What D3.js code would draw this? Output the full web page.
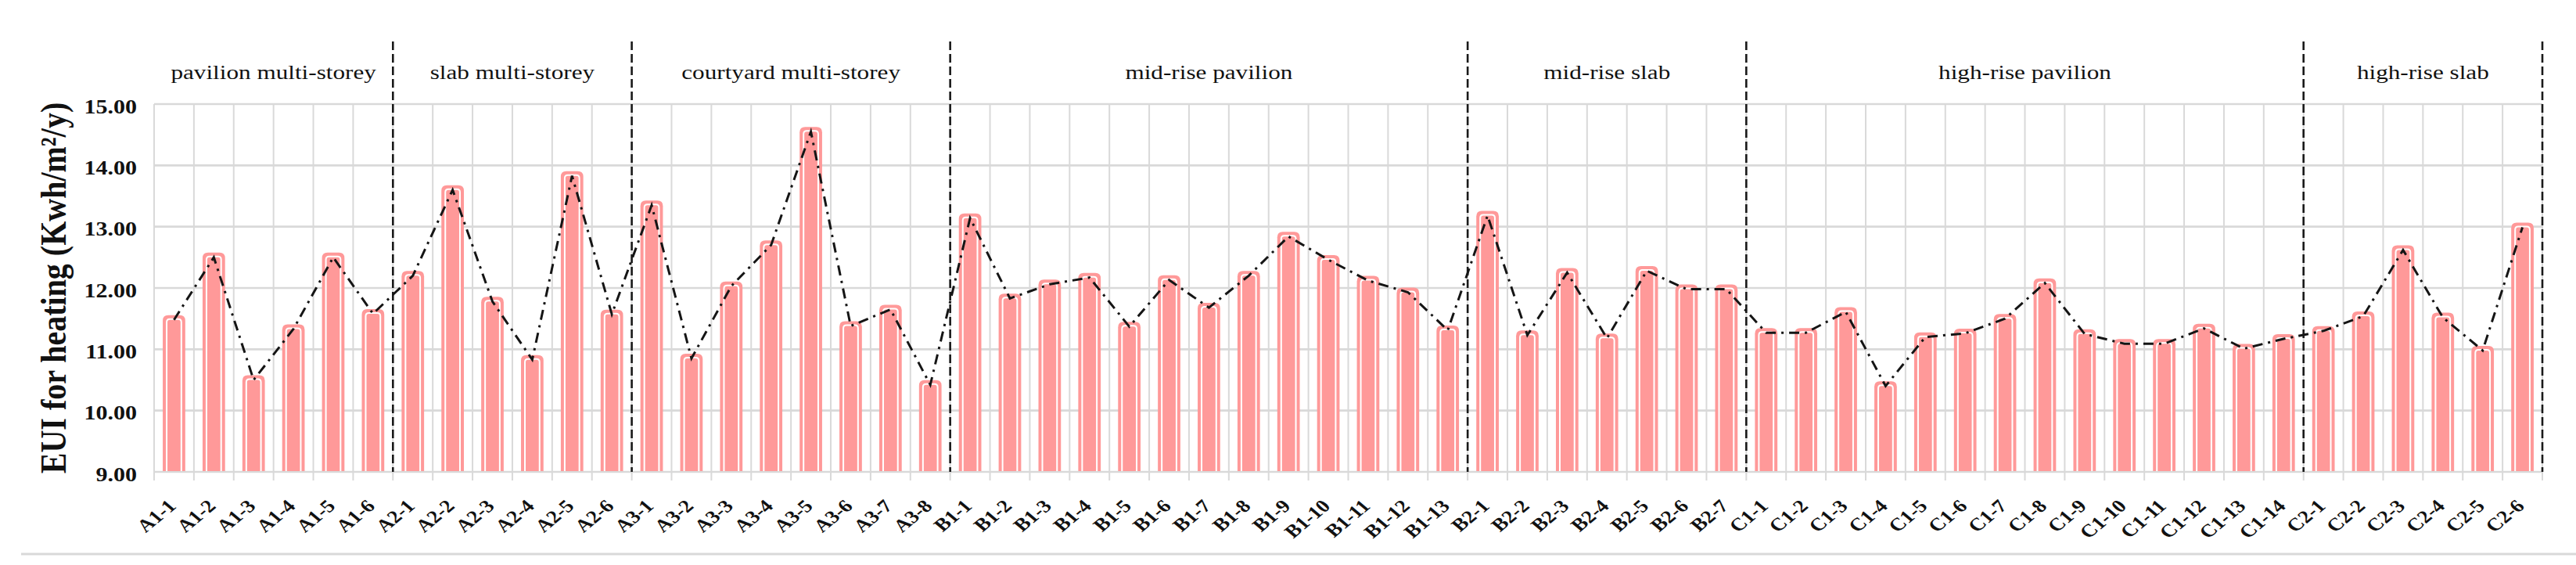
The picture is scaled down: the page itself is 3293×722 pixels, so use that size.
<!DOCTYPE html>
<html>
<head>
<meta charset="utf-8">
<script src="https://cdn.jsdelivr.net/npm/d3@7/dist/d3.min.js"></script>
<style>
  html, body { margin: 0; padding: 0; background: #ffffff; }
  svg { display: block; }
</style>
</head>
<body>
<script>
// ---------------- data ----------------
const categories = [
  "A1-1","A1-2","A1-3","A1-4","A1-5","A1-6",
  "A2-1","A2-2","A2-3","A2-4","A2-5","A2-6",
  "A3-1","A3-2","A3-3","A3-4","A3-5","A3-6","A3-7","A3-8",
  "B1-1","B1-2","B1-3","B1-4","B1-5","B1-6","B1-7","B1-8","B1-9","B1-10","B1-11","B1-12","B1-13",
  "B2-1","B2-2","B2-3","B2-4","B2-5","B2-6","B2-7",
  "C1-1","C1-2","C1-3","C1-4","C1-5","C1-6","C1-7","C1-8","C1-9","C1-10","C1-11","C1-12","C1-13","C1-14",
  "C2-1","C2-2","C2-3","C2-4","C2-5","C2-6"
];
const eui = [
  11.48, 12.50, 10.50, 11.33, 12.50, 11.58,
  12.20, 13.60, 11.78, 10.83, 13.83, 11.57,
  13.35, 10.85, 12.03, 12.70, 14.55, 11.38, 11.65, 10.42,
  13.14, 11.83, 12.06, 12.17, 11.37, 12.13, 11.68, 12.20, 12.84, 12.46, 12.12, 11.93, 11.31,
  13.18, 11.23, 12.25, 11.18, 12.28, 11.98, 11.98,
  11.27, 11.27, 11.61, 10.40, 11.20, 11.26, 11.50, 12.08, 11.25, 11.09, 11.09, 11.34, 11.01, 11.17,
  11.30, 11.54, 12.62, 11.52, 10.98, 12.99
];
const groupNames = [
  "pavilion multi-storey","slab multi-storey","courtyard multi-storey",
  "mid-rise pavilion","mid-rise slab","high-rise pavilion","high-rise slab"
];
const groupSizes = [6, 6, 8, 13, 7, 14, 6];
const yTicks = [9, 10, 11, 12, 13, 14, 15];
const yTitle = "EUI for heating (Kwh/m\u00B2/y)";

// ---------------- layout ----------------
const W = 3293, H = 722;
const serif = "'Liberation Serif', 'Times New Roman', Times, serif";
const pink = "#ff9999";
const gridColor = "#d9d9d9";

const svg = d3.select("body").append("svg")
  .attr("width", W).attr("height", H)
  .attr("viewBox", `0 0 ${W} ${H}`);

const x = d3.scaleBand().domain(categories).range([197, 3250]).padding(0);
const y = d3.scaleLinear().domain([9, 15]).range([603, 133]);
const step = x.step();
const boundaryX = i => (i < categories.length ? x(categories[i]) : x.range()[1]);

// horizontal grid
svg.append("g").selectAll("line").data(yTicks).join("line")
  .attr("x1", x.range()[0]).attr("x2", x.range()[1])
  .attr("y1", d => y(d)).attr("y2", d => y(d))
  .attr("stroke", gridColor).attr("stroke-width", 2.6);

// vertical grid + tick marks
svg.append("g").selectAll("line").data(d3.range(categories.length + 1)).join("line")
  .attr("x1", i => boundaryX(i)).attr("x2", i => boundaryX(i))
  .attr("y1", y(15)).attr("y2", y(9) + 11)
  .attr("stroke", gridColor).attr("stroke-width", 2);

// y tick labels
svg.append("g").selectAll("text").data(yTicks).join("text")
  .attr("transform", d => `translate(175,${y(d) + 11.5}) scale(1.2,1)`)
  .attr("text-anchor", "end")
  .attr("font-family", serif).attr("font-weight", "bold").attr("font-size", 25)
  .attr("fill", "#111")
  .text(d => d3.format(".2f")(d));

// y title
svg.append("text")
  .attr("transform", `translate(84,${(y(9) + y(15)) / 2}) scale(1.15,1) rotate(-90)`)
  .attr("text-anchor", "middle")
  .attr("font-family", serif).attr("font-weight", "bold").attr("font-size", 40)
  .attr("fill", "#111")
  .text(yTitle);

// bars
const bw = step * 0.565;
const topPath = (x0, x1, top, bottom, r) =>
  `M${x0},${bottom}V${top + r}Q${x0},${top} ${x0 + r},${top}H${x1 - r}Q${x1},${top} ${x1},${top + r}V${bottom}`;

const bars = svg.append("g");
bars.selectAll("path.outer").data(categories).join("path")
  .attr("class", "outer")
  .attr("d", (c, i) => {
    const cx = x(c) + step / 2;
    return topPath(cx - bw / 2, cx + bw / 2, y(eui[i]) - 6, y(9) - 1, 7) + "Z";
  })
  .attr("fill", pink);
bars.selectAll("path.inner").data(categories).join("path")
  .attr("class", "inner")
  .attr("d", (c, i) => {
    const cx = x(c) + step / 2;
    return topPath(cx - bw / 2 + 5, cx + bw / 2 - 5, y(eui[i]) - 1, y(9) - 1, 4);
  })
  .attr("fill", "none").attr("stroke", "#ffffff").attr("stroke-width", 2);

// group separators (dashed)
const cum = d3.cumsum(groupSizes);
svg.append("g").selectAll("line").data(cum).join("line")
  .attr("x1", i => boundaryX(i)).attr("x2", i => boundaryX(i))
  .attr("y1", 53).attr("y2", y(9))
  .attr("stroke", "#1a1a1a").attr("stroke-width", 2.6)
  .attr("stroke-dasharray", "11,5");

// group labels
const starts = [0, ...cum.slice(0, -1)];
svg.append("g").selectAll("text").data(groupNames).join("text")
  .attr("transform", (g, i) => {
    const cx = (boundaryX(starts[i]) + boundaryX(cum[i])) / 2;
    return `translate(${cx},101) scale(1.2,1)`;
  })
  .attr("text-anchor", "middle")
  .attr("font-family", serif).attr("font-size", 26)
  .attr("fill", "#111")
  .text(d => d);

// dash-dot line
const line = d3.line()
  .x((d, i) => x(categories[i]) + step / 2)
  .y(d => y(d));
svg.append("path")
  .datum(eui)
  .attr("d", line)
  .attr("fill", "none")
  .attr("stroke", "#151515").attr("stroke-width", 3)
  .attr("stroke-dasharray", "13,7,3,7");

// category labels
svg.append("g").selectAll("text").data(categories).join("text")
  .attr("transform", c => `translate(${x(c) + step / 2 + 4},648) scale(1.2,1) rotate(-45)`)
  .attr("text-anchor", "end")
  .attr("font-family", serif).attr("font-weight", "bold").attr("font-size", 23)
  .attr("fill", "#111")
  .text(c => c);

// bottom rule
svg.append("line")
  .attr("x1", 27).attr("x2", W).attr("y1", 708).attr("y2", 708)
  .attr("stroke", gridColor).attr("stroke-width", 3);
</script>
</body>
</html>
